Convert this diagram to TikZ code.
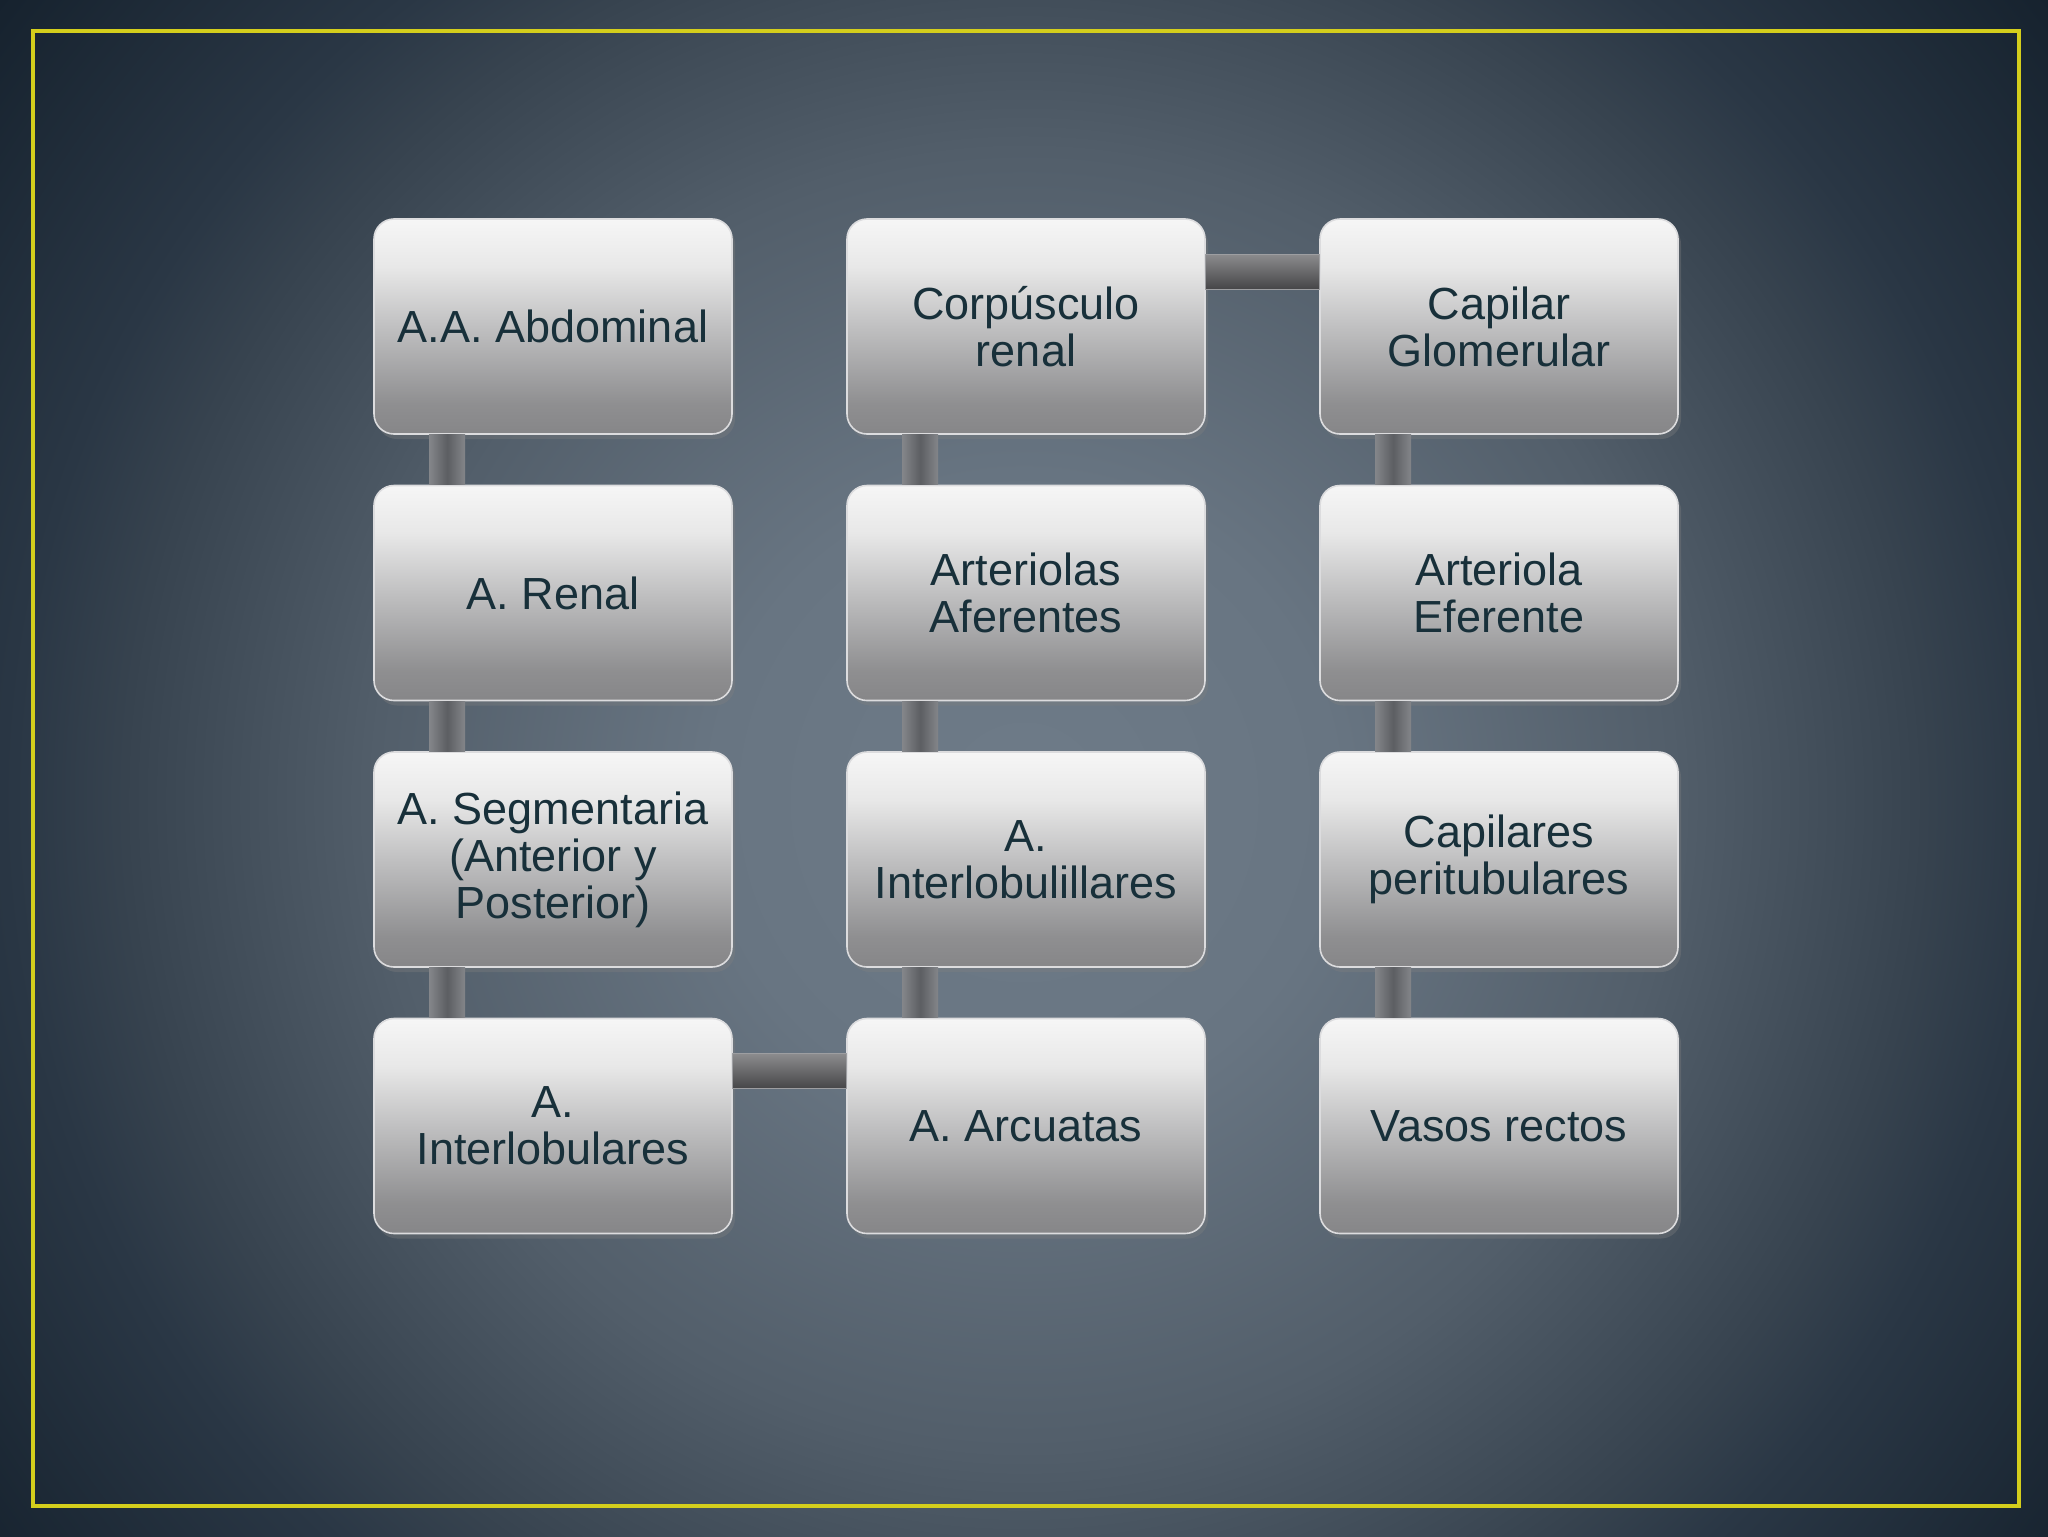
\documentclass[tikz,border=0pt]{standalone}
\usepackage{fontspec}
\setmainfont{Liberation Sans}
\usetikzlibrary{positioning,shadows}

\definecolor{bgcenter}{RGB}{110,123,136}
\definecolor{bginner}{RGB}{104,117,130}
\definecolor{bgmid}{RGB}{82,94,106}
\definecolor{bgouter}{RGB}{55,67,79}
\definecolor{bgedge}{RGB}{42,55,69}
\definecolor{bgcorner}{RGB}{22,34,46}
\definecolor{framecolor}{RGB}{212,206,28}
\definecolor{boxtop}{RGB}{246,246,246}
\definecolor{boxhigh}{RGB}{232,232,232}
\definecolor{boxmid}{RGB}{192,192,193}
\definecolor{boxbot}{RGB}{134,134,136}
\definecolor{boxrim}{RGB}{220,220,222}
\definecolor{boxtext}{RGB}{24,48,58}
\definecolor{linkedge}{RGB}{132,134,138}
\definecolor{linkcore}{RGB}{92,94,98}
\definecolor{linktop}{RGB}{140,140,142}
\definecolor{linkbot}{RGB}{70,70,72}

\pgfdeclareradialshading{bgglow}{\pgfpoint{0bp}{0bp}}{%
    color(0bp)=(bgcenter); color(6bp)=(bginner); color(12.5bp)=(bgmid);
    color(17.3bp)=(bgouter); color(19.4bp)=(bgedge); color(25bp)=(bgcorner);
    color(50bp)=(bgcorner)}
\pgfdeclareverticalshading{boxface}{100bp}{%
    color(0bp)=(boxbot); color(25bp)=(boxbot); color(32bp)=(boxbot!85!boxmid);
    color(50bp)=(boxmid); color(64bp)=(boxhigh); color(75bp)=(boxtop); color(100bp)=(boxtop)}

\begin{document}
\begin{tikzpicture}[%
        x=0.5pt, y=-0.5pt,
        arterybox/.style={%
            shade, shading=boxface,
            draw=boxrim, line width=0.8pt,
            rounded corners=10pt,
            minimum width=179pt, minimum height=107.5pt,
            inner sep=0pt, align=center,
            drop shadow={opacity=0.35, shadow xshift=1.5pt, shadow yshift=-2.5pt},
            text=boxtext,
            font=\fontsize{22.5}{23.5}\selectfont,
        },
        vlink/.style={%
            left color=linkedge, right color=linkedge, middle color=linkcore,
        },
        hlink/.style={%
            top color=linktop, bottom color=linkbot,
            draw=linkedge!80!white, line width=0.5pt,
        },
    ]

    % background and frame
    \begin{scope}
        \clip (0,0) rectangle (2048,1536);
        \path[shading=bgglow] (1024,800) circle (1300);
    \end{scope}
    \useasboundingbox (0,0) rectangle (2048,1536);
    \draw[framecolor, line width=2.2pt] (33,31) rectangle (2019,1506);

    % first column
    \node (abdominal) at (553,326.5) [arterybox] {A.A. Abdominal};
    \node (renal) at (553,593) [arterybox] {A. Renal};
    \node (segmentaria) at (553,859.5) [arterybox] {A. Segmentaria\\(Anterior y\\Posterior)};
    \node (interlobulares) at (553,1126) [arterybox] {A.\\Interlobulares};

    % second column
    \node (corpusculo) at (1026,326.5) [arterybox] {Corpúsculo\\renal};
    \node (aferentes) at (1026,593) [arterybox] {Arteriolas\\Aferentes};
    \node (interlobulillares) at (1026,859.5) [arterybox] {A.\\Interlobulillares};
    \node (arcuatas) at (1026,1126) [arterybox] {A. Arcuatas};

    % third column
    \node (glomerular) at (1499,326.5) [arterybox] {Capilar\\Glomerular};
    \node (eferente) at (1499,593) [arterybox] {Arteriola\\Eferente};
    \node (peritubulares) at (1499,859.5) [arterybox] {Capilares\\peritubulares};
    \node (vasos) at (1499,1126) [arterybox] {Vasos rectos};

    \foreach \linkfrom/\linkto in {abdominal/renal, renal/segmentaria,
            segmentaria/interlobulares, corpusculo/aferentes,
            aferentes/interlobulillares, interlobulillares/arcuatas,
            glomerular/eferente, eferente/peritubulares,
            peritubulares/vasos} {%
        \path[vlink] ([xshift=28pt]\linkfrom.south west) rectangle ([xshift=46pt]\linkto.north west);
    }

    \path[hlink] ([yshift=-18pt]interlobulares.north east) rectangle ([yshift=-35.5pt]arcuatas.north west);
    \path[hlink] ([yshift=-18pt]corpusculo.north east) rectangle ([yshift=-35.5pt]glomerular.north west);
\end{tikzpicture}
\end{document}
